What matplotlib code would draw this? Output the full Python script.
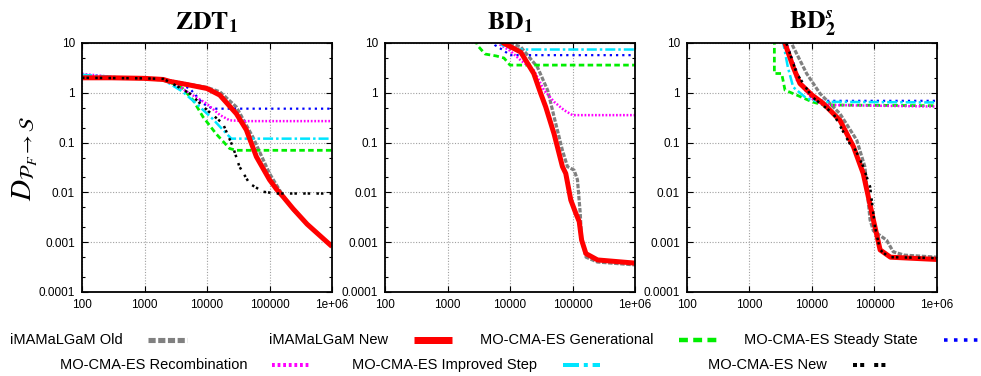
import matplotlib
matplotlib.use('Agg')
import matplotlib.pyplot as plt
from matplotlib.lines import Line2D
from matplotlib.ticker import FixedLocator, FixedFormatter, NullFormatter

plt.rcParams['font.family'] = ['Liberation Sans', 'DejaVu Sans']
plt.rcParams['mathtext.fontset'] = 'stix'

# ---- data (evaluations vs distance) ----
titles = [r'$\mathbf{ZDT}_{\mathbf{1}}$', r'$\mathbf{BD}_{\mathbf{1}}$', r'$\mathbf{BD}_{\mathbf{2}}^{\mathbfit{s}}$']
x_ticks = [100, 1000, 10000, 100000, 1000000]
x_ticklabels = ['100', '1000', '10000', '100000', '1e+06']
y_ticks = [0.0001, 0.001, 0.01, 0.1, 1, 10]
y_ticklabels = ['0.0001', '0.001', '0.01', '0.1', '1', '10']

series_names = ['iMAMaLGaM Old', 'iMAMaLGaM New', 'MO-CMA-ES Generational', 'MO-CMA-ES Steady State',
                'MO-CMA-ES Recombination', 'MO-CMA-ES Improved Step', 'MO-CMA-ES New']

# ZDT1
zdt1_old_x = [100, 300, 1000, 2000, 2500, 5000, 10000, 16000, 29500, 54000, 100000, 165000, 240000, 400000, 1e6]
zdt1_old_y = [2.0, 2.0, 1.95, 1.85, 1.75, 1.5, 1.28, 1.05, 0.52, 0.13, 0.024, 0.0085, 0.0045, 0.0023, 0.00082]
zdt1_new_x = [100, 300, 1000, 2000, 2500, 5000, 10000, 16000, 29500, 42600, 61700, 100000, 130000, 165000, 238000, 400000, 1e6]
zdt1_new_y = [2.0, 2.0, 1.95, 1.85, 1.7, 1.45, 1.22, 0.9, 0.38, 0.18, 0.052, 0.018, 0.0115, 0.0082, 0.0047, 0.0023, 0.00082]
zdt1_gen_x = [100, 500, 1000, 2000, 3000, 4100, 6000, 8600, 14000, 23000, 29500, 1e6]
zdt1_gen_y = [2.0, 1.95, 1.9, 1.8, 1.5, 1.22, 0.71, 0.33, 0.15, 0.076, 0.07, 0.07]
zdt1_ss_x = [100, 1000, 2000, 2500, 5300, 8600, 12300, 1e6]
zdt1_ss_y = [2.1, 1.95, 1.9, 1.8, 1.22, 0.61, 0.48, 0.48]
zdt1_rec_x = [100, 200, 500, 1000, 2000, 2500, 5300, 9800, 16000, 23000, 40000, 1e6]
zdt1_rec_y = [2.4, 2.2, 1.95, 1.9, 1.85, 1.8, 0.97, 0.61, 0.36, 0.28, 0.27, 0.27]
zdt1_imp_x = [100, 300, 1000, 2000, 2500, 4100, 6700, 12300, 18000, 24500, 1e6]
zdt1_imp_y = [2.3, 2.1, 1.9, 1.8, 1.54, 1.05, 0.61, 0.3, 0.18, 0.12, 0.12]
zdt1_mn_x = [100, 1000, 2000, 2500, 5300, 10000, 18000, 26000, 33000, 48000, 79000, 130000, 1e6]
zdt1_mn_y = [2.0, 1.95, 1.9, 1.66, 0.97, 0.45, 0.24, 0.082, 0.033, 0.015, 0.0103, 0.0095, 0.0095]

# BD1
bd1_old_x = [8500, 9500, 14800, 27400, 40000, 50700, 69000, 83000, 106000, 120000, 133000, 140000, 165000, 250000, 1e6]
bd1_old_y = [12, 10, 8.4, 3.3, 1.13, 0.33, 0.07, 0.033, 0.028, 0.018, 0.0038, 0.0011, 0.0005, 0.0004, 0.00035]
bd1_new_x = [7300, 7800, 14800, 24000, 31000, 37300, 50700, 69000, 78000, 94000, 113000, 128000, 140000, 164000, 252000, 1e6]
bd1_new_y = [12, 10, 6.6, 2.44, 0.97, 0.52, 0.15, 0.033, 0.024, 0.007, 0.0038, 0.0026, 0.0011, 0.00059, 0.00044, 0.00038]
bd1_gen_x = [2800, 3000, 4000, 6000, 8000, 10000, 1e6]
bd1_gen_y = [12, 9, 6, 5.5, 5.0, 3.6, 3.6]
bd1_ss_x = [5200, 5800, 8000, 10000, 1e6]
bd1_ss_y = [12, 9, 7, 5.7, 5.7]
bd1_rec_x = [5800, 6900, 10000, 14800, 24000, 35000, 50700, 73000, 100000, 1e6]
bd1_rec_y = [12, 9.3, 7, 4.5, 2.85, 1.13, 0.66, 0.45, 0.356, 0.356]
bd1_imp_x = [6500, 7500, 10000, 14000, 1e6]
bd1_imp_y = [12, 9, 8, 7.4, 7.4]
bd1_mn_x = []
bd1_mn_y = []

# BD2s
bd2_old_x = [4500, 4700, 8200, 13400, 28000, 52000, 70000, 85000, 96000, 156000, 200000, 300000, 1e6]
bd2_old_y = [12, 9.8, 2.44, 0.97, 0.38, 0.112, 0.033, 0.0028, 0.0017, 0.0011, 0.00064, 0.00055, 0.0005]
bd2_new_x = [3500, 3700, 5000, 6400, 10000, 15200, 28000, 46000, 66000, 96000, 123000, 180000, 1e6]
bd2_new_y = [12, 9.8, 3.3, 1.54, 0.9, 0.61, 0.28, 0.083, 0.024, 0.0028, 0.0007, 0.0005, 0.00045]
bd2_gen_x = [2500, 2500, 3270, 3700, 5700, 10000, 15000, 1e6]
bd2_gen_y = [12, 2.44, 2.44, 1.13, 0.9, 0.66, 0.57, 0.55]
bd2_ss_x = [3700, 3900, 6400, 10000, 15000, 1e6]
bd2_ss_y = [12, 9.8, 1.8, 0.77, 0.69, 0.69]
bd2_rec_x = [3700, 3900, 5700, 10000, 15000, 1e6]
bd2_rec_y = [12, 9.8, 1.8, 0.77, 0.57, 0.53]
bd2_imp_x = [3300, 3480, 4100, 5000, 8200, 13000, 1e6]
bd2_imp_y = [12, 9.8, 3.3, 1.3, 0.77, 0.66, 0.64]
bd2_mn_x = [3700, 3900, 5700, 10000, 22000, 40000, 50000, 66000, 85000, 102000, 123000, 170000, 1e6]
bd2_mn_y = [12, 9.8, 2.44, 0.83, 0.38, 0.096, 0.07, 0.033, 0.013, 0.002, 0.0007, 0.0005, 0.00048]

panels = [
    [(zdt1_old_x, zdt1_old_y), (zdt1_new_x, zdt1_new_y), (zdt1_gen_x, zdt1_gen_y), (zdt1_ss_x, zdt1_ss_y),
     (zdt1_rec_x, zdt1_rec_y), (zdt1_imp_x, zdt1_imp_y), (zdt1_mn_x, zdt1_mn_y)],
    [(bd1_old_x, bd1_old_y), (bd1_new_x, bd1_new_y), (bd1_gen_x, bd1_gen_y), (bd1_ss_x, bd1_ss_y),
     (bd1_rec_x, bd1_rec_y), (bd1_imp_x, bd1_imp_y), (bd1_mn_x, bd1_mn_y)],
    [(bd2_old_x, bd2_old_y), (bd2_new_x, bd2_new_y), (bd2_gen_x, bd2_gen_y), (bd2_ss_x, bd2_ss_y),
     (bd2_rec_x, bd2_rec_y), (bd2_imp_x, bd2_imp_y), (bd2_mn_x, bd2_mn_y)],
]

styles = [
    dict(color='#808080', lw=2.3, ls=(0, (1.4, 0.5))),
    dict(color='#ff0000', lw=3.6, ls='-'),
    dict(color='#00ee00', lw=2.0, ls=(0, (2.0, 1.2))),
    dict(color='#0000ff', lw=1.6, ls=(0, (1, 1.8))),
    dict(color='#ff00ff', lw=1.8, ls=(0, (0.7, 0.7))),
    dict(color='#00e5ff', lw=1.8, ls=(0, (4, 1.2, 1, 1.2))),
    dict(color='#000000', lw=1.8, ls=(0, (1, 0.8, 1, 2.5))),
]
draw_order = [0, 2, 3, 4, 5, 1, 6]

fig = plt.figure(figsize=(9.81, 3.76), dpi=100)
lefts = [82, 385, 687]
W, H = 981.0, 376.0

for i, left in enumerate(lefts):
    ax = fig.add_axes([left / W, 1 - 292 / H, 250 / W, 249 / H])
    for k in draw_order:
        xs, ys = panels[i][k]
        st = styles[k]
        if xs:
            ax.plot(xs, ys, color=st['color'], lw=st['lw'], linestyle=st['ls'],
                    solid_capstyle='butt', dash_capstyle='butt')
    ax.set_xscale('log')
    ax.set_yscale('log')
    ax.set_xlim(100, 1e6)
    ax.set_ylim(1e-4, 10)
    ax.xaxis.set_major_locator(FixedLocator(x_ticks))
    ax.xaxis.set_major_formatter(FixedFormatter(x_ticklabels))
    ax.xaxis.set_minor_locator(FixedLocator([]))
    ax.yaxis.set_major_locator(FixedLocator(y_ticks))
    ax.yaxis.set_major_formatter(FixedFormatter(y_ticklabels))
    minors = [m * d for d in [1e-4, 1e-3, 1e-2, 1e-1, 1] for m in (2, 5)]
    ax.yaxis.set_minor_locator(FixedLocator(minors))
    ax.yaxis.set_minor_formatter(NullFormatter())
    ax.tick_params(which='both', direction='in', top=True, right=True, labelsize=8.5, pad=5)
    ax.tick_params(which='major', length=4, width=0.8)
    ax.tick_params(which='minor', length=2.5, width=0.8)
    ax.grid(True, which='major', color='#a0a0a0', lw=0.8, linestyle=(0, (1, 1.5)))
    for sp in ax.spines.values():
        sp.set_linewidth(1.3)
    ax.set_title(titles[i], fontsize=18.5, pad=10)

fig.text(25 / W, 1 - 158 / H, r'$D_{\mathcal{P}_F \rightarrow \mathcal{S}}$', rotation=90,
         fontsize=21, ha='center', va='center')

# legend (gnuplot style: label then sample)
legend_rows = [
    [(0, 123, 148, 187, 340), (1, 388, 414, 452, 340), (2, 653, 679, 718, 340), (3, 918, 944, 981, 340)],
    [(4, 247, 272, 311, 365), (5, 537, 563, 600, 365), (6, 827, 853, 891, 365)],
]
for row in legend_rows:
    for idx, tx, s0, s1, yy in row:
        st = styles[idx]
        fig.text(tx / W, 1 - yy / H, series_names[idx], ha='right', va='center', fontsize=10.5)
        fig.add_artist(Line2D([s0 / W, s1 / W], [1 - yy / H, 1 - yy / H], transform=fig.transFigure,
                              color=st['color'], lw=st['lw'] * 1.6 if idx != 1 else st['lw'] * 1.4,
                              linestyle=st['ls'], solid_capstyle='butt', dash_capstyle='butt'))

fig.savefig('out.png', dpi=100)
